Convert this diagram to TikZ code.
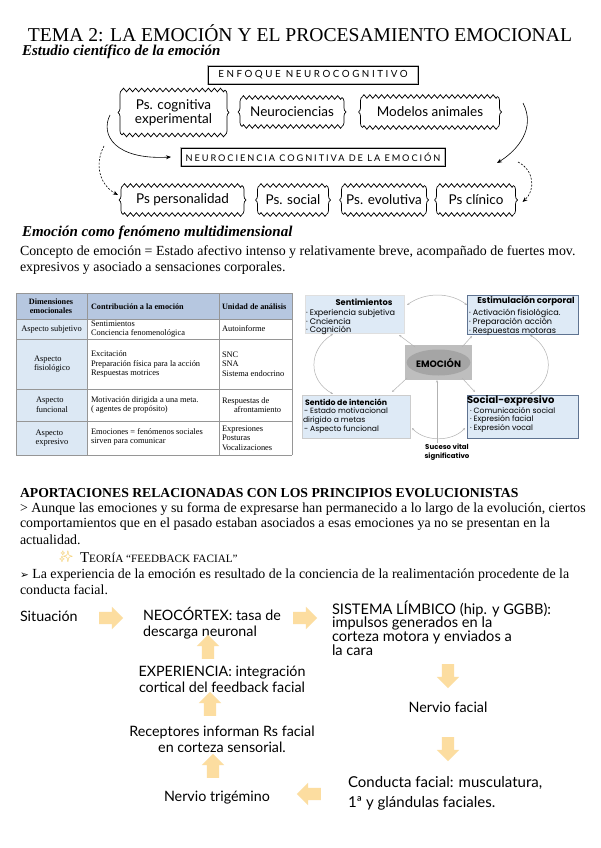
\documentclass[tikz,border=0pt]{standalone}
\usepackage{fontspec}
\setmainfont{Liberation Serif}
\newfontfamily\hand{Lato}
\newfontfamily\dsans{Poppins}
\newfontfamily\symf{DejaVu Sans}
\newfontfamily\emof{Noto Emoji}
\usetikzlibrary{arrows.meta,shapes.arrows,shapes.geometric,decorations.pathreplacing,calc}
\definecolor{thead}{RGB}{182,199,224}
\definecolor{tcol}{RGB}{220,232,244}
\definecolor{tgrid}{RGB}{150,150,150}
\definecolor{dbox}{RGB}{222,234,246}
\definecolor{dedge}{RGB}{95,115,145}
\definecolor{arrfill}{RGB}{252,221,160}
\definecolor{spark}{RGB}{240,190,60}
\definecolor{emorect}{RGB}{190,190,190}
\definecolor{emoell}{RGB}{165,165,165}
\tikzset{
 txt/.style={inner sep=0pt, outer sep=0pt},
 body/.style={txt, anchor=west, font=\fontsize{13.9}{16}\selectfont},
 hw/.style={txt, font=\hand\fontsize{14.3}{16}\selectfont, align=left},
 wline/.style={line width=0.75pt},
 wside/.style={decorate, decoration={brace, amplitude=4pt}, line width=0.7pt},
 wbox/.style={txt, align=center, font=\hand\fontsize{13.5}{13.5}\selectfont},
 harr/.style={-{Stealth[length=5pt,width=4pt]}, line width=0.6pt},
 harrd/.style={harr, dash pattern=on 2pt off 1.5pt},
 blk/.style={single arrow, fill=arrfill, draw=none, minimum height=24pt, minimum width=0pt, inner sep=6pt, single arrow head extend=5pt, outer sep=0pt},
 garr/.style={{Stealth[length=2.5pt,width=2pt]}-{Stealth[length=2.5pt,width=2pt]}, draw=gray!60, line width=0.5pt},
 garr1/.style={-{Stealth[length=2.5pt,width=2pt]}, draw=gray!60, line width=0.5pt},
 tbl/.style={txt, font=\fontsize{8.4}{9.6}\selectfont, align=left},
 tblh/.style={txt, font=\bfseries\fontsize{8.2}{9}\selectfont, align=center},
 dg/.style={txt, font=\dsans\fontsize{8.1}{7.2}\selectfont, align=left},
 dgt/.style={txt, font=\dsans\bfseries\fontsize{8.3}{8}\selectfont},
 enf/.style={txt, draw=black, line width=0.5pt, preaction={draw=gray!55, line width=2.4pt}},
}
\newcommand\wavyline[2]{%
 \pgfmathsetmacro\wvn{int(round(#2/6))}%
 \pgfmathsetmacro\wvq{#2/\wvn/4}%
 \draw[wline] (#1) \foreach \wvi in {1,...,\wvn} { sin ++(\wvq,-1.8) cos ++(\wvq,1.8) sin ++(\wvq,1.8) cos ++(\wvq,-1.8) };}
\newcommand\wavyframe[2]{%
 \wavyline{#1.north west}{#2}
 \wavyline{#1.south west}{#2}
 \draw[wside] (#1.south west) -- (#1.north west);
 \draw[wside] (#1.north east) -- (#1.south east);}
\begin{document}
\begin{tikzpicture}[x=1pt,y=-1pt]
\useasboundingbox (0,0) rectangle (600,848);
\fill[white] (0,0) rectangle (600,848);

% ---------- title ----------
\node[txt, font=\fontsize{19.6}{22}\selectfont] (title) at (300,33) {TEMA 2: LA EMOCIÓN Y EL PROCESAMIENTO EMOCIONAL};
\node[txt, anchor=west, font=\bfseries\itshape\fontsize{15}{17}\selectfont] (h1) at (22,52) {Estudio científico de la emoción};

% ---------- neurocognitive scheme ----------
\node[enf, minimum width=210pt, minimum height=18pt, font=\hand\fontsize{9.8}{10}\selectfont\addfontfeature{LetterSpace=26}] (enfo) at (313,75) {ENFOQUE NEUROCOGNITIVO};

\node[wbox, minimum width=103pt, minimum height=45pt] (pcog) at (173.5,112.5) {Ps. cognitiva\\experimental};
\node[wbox, minimum width=100pt, minimum height=29pt] (neur) at (292,112) {Neurociencias};
\node[wbox, minimum width=135pt, minimum height=31pt] (mode) at (430,112) {Modelos animales};
\wavyframe{pcog}{103}\wavyframe{neur}{100}\wavyframe{mode}{135}

\node[enf, minimum width=264pt, minimum height=18pt, font=\hand\fontsize{9.2}{10}\selectfont\addfontfeature{LetterSpace=21}] (ncog) at (313,157) {NEUROCIENCIA COGNITIVA DE LA EMOCIÓN};

\node[wbox, minimum width=119pt, minimum height=29pt] (pers) at (182.5,200) {Ps personalidad};
\node[wbox, minimum width=67pt, minimum height=29pt] (psoc) at (293,200) {Ps. social};
\node[wbox, minimum width=81pt, minimum height=29pt] (pevo) at (384,200) {Ps. evolutiva};
\node[wbox, minimum width=75pt, minimum height=29pt] (pcli) at (476,200) {Ps clínico};
\wavyframe{pers}{119}\wavyframe{psoc}{67}\wavyframe{pevo}{81}\wavyframe{pcli}{75}

\coordinate (la1) at (110,115);
\draw[harr] (la1) .. controls (100,135) and (115,160) .. ($(ncog.west)+(-10,0)$);
\coordinate (ld1) at (104,146);
\draw[harrd] (ld1) .. controls (94,165) and (100,185) .. ($(pers.west)+(-5,-5)$);
\coordinate (ra1) at (523,103);
\coordinate (ra2) at (497,163);
\draw[harr] (ra1) .. controls (536,128) and (518,150) .. (ra2);
\coordinate (rd1) at (518,162);
\draw[harrd] (rd1) .. controls (534,170) and (536,190) .. ($(pcli.east)+(9,2)$);

% ---------- multidimensional ----------
\node[txt, anchor=west, font=\bfseries\itshape\fontsize{15}{18}\selectfont] (h2) at (22,233) {Emoción como fenómeno multidimensional};
\node[body] (c1) at (20,252) {Concepto de emoción = Estado afectivo intenso y relativamente breve, acompañado de fuertes mov.};
\node[body] (c2) at (20,268) {expresivos y asociado a sensaciones corporales.};

% ---------- table ----------
\fill[thead] (16,293) rectangle (292,319);
\fill[tcol] (16,319) rectangle (87,455);
\foreach \yy in {293,319,339,389,421,455} \draw[tgrid, line width=0.4pt] (16,\yy) -- (292,\yy);
\foreach \xx in {16,87,219,292} \draw[tgrid, line width=0.4pt] (\xx,293) -- (\xx,455);

\node[tblh] (th1) at (51,306) {Dimensiones\\emocionales};
\node[tblh, anchor=west] (th2) at (91,307) {Contribución a la emoción};
\node[tblh, anchor=west] (th3) at (222,307) {Unidad de análisis};

\node[tbl] (r1a) at (51.5,329) {Aspecto subjetivo};
\node[tbl, anchor=west] (r1b) at (91,329) {Sentimientos\\Conciencia fenomenológica};
\node[tbl, anchor=west] (r1c) at (222,329) {Autoinforme};

\node[tbl] (r2a) at (52,364) {Aspecto\\fisiológico};
\node[tbl, anchor=west] (r2b) at (91,364) {Excitación\\Preparación física para la acción\\Respuestas motrices};
\node[tbl, anchor=west] (r2c) at (222,364) {SNC\\SNA\\Sistema endocrino};

\node[tbl] (r3a) at (52,405) {Aspecto\\funcional};
\node[tbl, anchor=west] (r3b) at (91,405) {Motivación dirigida a una meta.\\( agentes de propósito)};
\node[tbl, anchor=west] (r3c) at (222,405) {Respuestas de\\\hspace*{12pt}afrontamiento};

\node[tbl] (r4a) at (52,438) {Aspecto\\expresivo};
\node[tbl, anchor=west] (r4b) at (91,437) {Emociones = fenómenos sociales\\sirven para comunicar};
\node[tbl, anchor=west] (r4c) at (222,438) {Expresiones\\Posturas\\Vocalizaciones};

% ---------- emotion diagram ----------
\node[txt, draw=gray!25, fill=dbox, minimum width=99pt, minimum height=38pt] (sent) at (354.5,314) {};
\node[txt, draw=dedge, line width=0.7pt, fill=dbox, minimum width=111pt, minimum height=39pt] (esti) at (522.5,314.5) {};
\node[txt, draw=gray!40, fill=dbox, minimum width=108pt, minimum height=43pt] (sint) at (356,416.5) {};
\node[txt, draw=dedge, line width=0.7pt, fill=dbox, minimum width=111pt, minimum height=43pt] (socx) at (522.5,416.5) {};
\node[txt, fill=emorect, minimum width=67pt, minimum height=35pt] (emo) at (438.5,362.5) {};
\node[txt, ellipse, fill=emoell, minimum width=60pt, minimum height=26pt, font=\dsans\bfseries\fontsize{9.3}{9}\selectfont] (emoe) at (emo.center) {EMOCIÓN};

\node[dgt] (sentt) at (364,302) {Sentimientos};
\node[dg, anchor=north west] (senti) at (306,309.5) {· Experiencia subjetiva\\· Cnciencia\\· Cognición};
\node[dgt, font=\dsans\bfseries\fontsize{8.6}{8}\selectfont] (estit) at (526,301) {Estimulación corporal};
\node[dg, anchor=north west] (estii) at (469,309) {· Activación fisiológica.\\· Preparación acción\\· Respuestas motoras};
\node[dgt, anchor=west, font=\dsans\bfseries\fontsize{7.8}{8}\selectfont] (sintt) at (305,402) {Sentido de intención};
\node[dg, anchor=north west, font=\dsans\fontsize{7.6}{8.8}\selectfont] (sinti) at (303,408) {\hspace*{1pt}- Estado motivacional\\dirigido a metas\\\hspace*{1pt}- Aspecto funcional};
\node[dgt, anchor=west, font=\dsans\bfseries\fontsize{10}{10}\selectfont] (socxt) at (467,401) {Social-expresivo};
\node[dg, anchor=north west, font=\dsans\fontsize{7.7}{8.4}\selectfont] (socxi) at (470,407.5) {· Comunicación social\\· Expresión facial\\· Expresión vocal};
\node[dgt, align=center, font=\dsans\bfseries\fontsize{7}{8.6}\selectfont] (suc) at (447,452) {Suceso vital\\significativo};

\draw[garr] ($(sent.north east)+(3,10)$) .. controls (425,292) and (450,292) .. ($(esti.north west)+(0,10)$);
\draw[garr] ($(sent.south west)+(28,1)$) .. controls (308,350) and (308,380) .. ($(sint.north west)+(31,-1)$);
\draw[garr] ($(esti.south west)+(63,1)$) .. controls (554,350) and (554,380) .. ($(socx.north west)+(63,-1)$);
\draw[garr] ($(sint.south east)+(2,-10)$) .. controls (425,442) and (452,442) .. ($(socx.south west)+(-2,-10)$);
\draw[garr1] ($(emo.north west)+(10,2)$) -- ($(sent.south east)+(-5,2)$);
\draw[garr1] ($(emo.north east)+(-10,2)$) -- ($(esti.south west)+(5,2)$);
\draw[garr1] ($(emo.south west)+(2,-2)$) -- ($(sint.north east)+(-18,-3)$);
\draw[garr1] ($(emo.south east)+(-10,-2)$) -- ($(socx.north west)+(8,-3)$);
\coordinate (sv) at (437,443);
\draw[garr1] (sv) -- (sv |- emo.south);

% ---------- aportaciones ----------
\node[txt, anchor=west, font=\bfseries\fontsize{13.7}{15}\selectfont] (h3) at (20,493) {APORTACIONES RELACIONADAS CON LOS PRINCIPIOS EVOLUCIONISTAS};
\node[body] (p1) at (20,509) {> Aunque las emociones y su forma de expresarse han permanecido a lo largo de la evolución, ciertos};
\node[body] (p2) at (20,524) {comportamientos que en el pasado estaban asociados a esas emociones ya no se presentan en la};
\node[body] (p3) at (20,540) {actualidad.};
\node[txt, font=\emof\fontsize{11}{12}\selectfont, text=spark] (spk) at (66,557) {✨};
\node[txt, anchor=west] (teo) at (80,558) {{\fontsize{15}{16}\selectfont T}{\fontsize{11.2}{12}\selectfont EORÍA “FEEDBACK FACIAL”}};
\node[body] (p4) at (20,575) {{\symf\fontsize{10.5}{12}\selectfont ➢} La experiencia de la emoción es resultado de la conciencia de la realimentación procedente de la};
\node[body] (p5) at (20,590) {conducta facial.};

% ---------- feedback facial flow ----------
\node[hw, anchor=west] (sit) at (20,616) {Situación};
\node[hw, anchor=west] (neo) at (143,623) {NEOCÓRTEX: tasa de\\descarga neuronal};
\node[hw, anchor=west, font=\hand\fontsize{14.6}{13.6}\selectfont] (lim) at (332,628) {SISTEMA LÍMBICO (hip. y GGBB):\\impulsos generados en la\\corteza motora y enviados a\\la cara};
\node[hw] (nfa) at (448,707) {Nervio facial};
\node[hw, anchor=west, font=\hand\fontsize{15}{20}\selectfont] (con) at (348,793) {Conducta facial: musculatura,\\1ª y glándulas faciales.};
\node[hw] (tri) at (217,798) {Nervio trigémino};
\node[hw, align=center] (rec) at (222,739) {Receptores informan Rs facial\\en corteza sensorial.};
\node[hw, align=center] (expe) at (222,679) {EXPERIENCIA: integración\\cortical del feedback facial};

\node[blk] (b1) at (108,618) {};
\node[blk] (b2) at (302,618) {};
\node[blk, shape border rotate=270] (b3) at (448,673) {};
\node[blk, shape border rotate=270] (b4) at (448,746) {};
\node[blk, shape border rotate=180] (b5) at (312,794) {};
\node[blk, shape border rotate=90] (b6) at (213,769) {};
\node[blk, shape border rotate=90] (b7) at (210,707) {};
\node[blk, shape border rotate=90] (b8) at (208,650) {};
\end{tikzpicture}
\end{document}
